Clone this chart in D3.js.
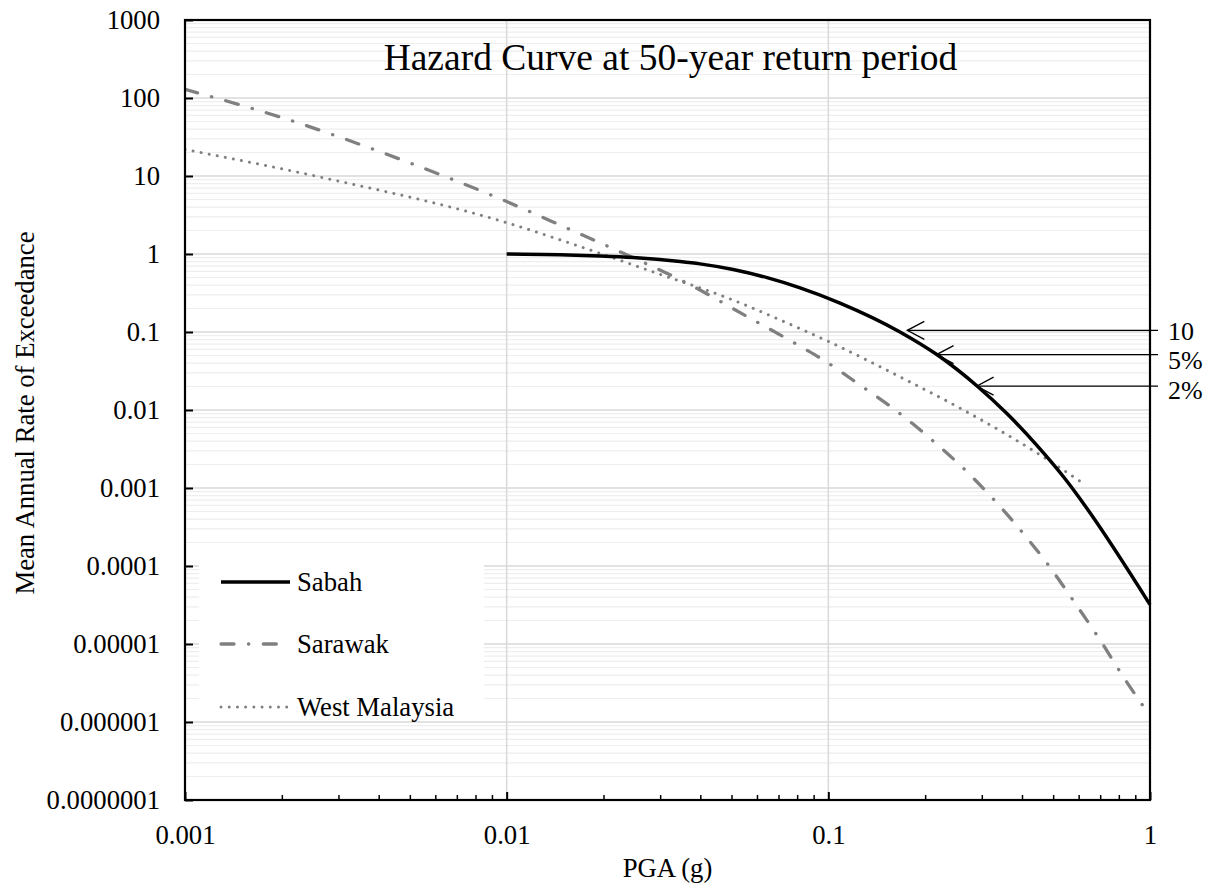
<!DOCTYPE html>
<html>
<head>
<meta charset="utf-8">
<script src="https://cdn.jsdelivr.net/npm/d3@7"></script>
<style>
  html, body { margin: 0; padding: 0; background: #fff; }
  svg { display: block; }
  text { font-family: "Liberation Serif", "Times New Roman", serif; fill: #000; }
</style>
</head>
<body>
<svg id="chart" width="1215" height="890"></svg>
<script>
// ---------------- data ----------------
const sabahPGA  = [0.01, 0.01466, 0.0195, 0.0247, 0.0346, 0.0399, 0.0506, 0.0645, 0.0817, 0.1087, 0.167, 0.218, 0.29, 0.359, 0.445, 0.552, 0.628, 1.0];
const sabahRate = [1.0, 0.98, 0.945, 0.902, 0.801, 0.747, 0.633, 0.497, 0.368, 0.235, 0.1002, 0.051, 0.0203, 0.0090, 0.00352, 0.00122, 0.000593, 0.000032];

const sarawakPGA  = [0.001, 0.00196, 0.005, 0.01, 0.01545, 0.0237, 0.0369, 0.0553, 0.0838, 0.0955, 0.124, 0.1614, 0.206, 0.261, 0.326, 0.401, 0.489, 0.586, 0.700, 0.828, 1.0];
const sarawakRate = [129, 57.6, 14.7, 4.7, 2.13, 0.97, 0.41, 0.162, 0.0618, 0.045, 0.0216, 0.01, 0.00442, 0.00184, 0.00072, 0.00027, 0.000096, 0.000033, 0.0000112, 0.00000374, 0.0000012];

const westPGA  = [0.001, 0.00266, 0.01, 0.0164, 0.029, 0.048, 0.081, 0.1, 0.165, 0.263, 0.439, 0.619];
const westRate = [21.9, 9.6, 2.52, 1.30, 0.575, 0.279, 0.112, 0.0757, 0.0273, 0.01, 0.00292, 0.00115];

const seriesNames = ["Sabah", "Sarawak", "West Malaysia"];

const xTickValues = [0.001, 0.01, 0.1, 1];
const xTickLabels = ["0.001", "0.01", "0.1", "1"];
const yTickValues = [1e-7, 1e-6, 1e-5, 1e-4, 1e-3, 1e-2, 1e-1, 1, 10, 100, 1000];
const yTickLabels = ["0.0000001", "0.000001", "0.00001", "0.0001", "0.001", "0.01", "0.1", "1", "10", "100", "1000"];

const annoLabels = ["10", "5%", "2%"];
const annoRate   = [0.105, 0.0513, 0.0202];
const annoPGA    = [0.176, 0.217, 0.289];

const titleText = "Hazard Curve at 50-year return period";
const xTitle = "PGA (g)";
const yTitle = "Mean Annual Rate of Exceedance";

// ---------------- layout ----------------
const L = 185, R = 1150, T = 20, B = 800;
const svg = d3.select("#chart");
const x = d3.scaleLog().domain([0.001, 1]).range([L, R]);
const y = d3.scaleLog().domain([1e-7, 1000]).range([B, T]);

// minor horizontal gridlines
const minorY = [];
yTickValues.slice(0, -1).forEach(d => { for (let k = 2; k <= 9; k++) minorY.push(k * d); });
svg.append("g").selectAll("line").data(minorY).join("line")
  .attr("x1", L).attr("x2", R)
  .attr("y1", d => y(d)).attr("y2", d => y(d))
  .attr("stroke", "#eeeeee").attr("stroke-width", 1.2);
// major horizontal gridlines
svg.append("g").selectAll("line").data(yTickValues).join("line")
  .attr("x1", L).attr("x2", R)
  .attr("y1", d => y(d)).attr("y2", d => y(d))
  .attr("stroke", "#d9d9d9").attr("stroke-width", 1.5);
// vertical major gridlines
svg.append("g").selectAll("line").data(xTickValues.slice(1, -1)).join("line")
  .attr("x1", d => x(d)).attr("x2", d => x(d))
  .attr("y1", T).attr("y2", B)
  .attr("stroke", "#d9d9d9").attr("stroke-width", 1.5);

// legend background
svg.append("rect").attr("x", 199).attr("y", 562).attr("width", 285).attr("height", 150).attr("fill", "#fff");

// ---------------- curves ----------------
const line = d3.line().x(d => x(d[0])).y(d => y(d[1])).curve(d3.curveMonotoneX);
const styles = [
  { color: "#000000", width: 3.5, dash: null, cap: "butt" },
  { color: "#808080", width: 3.3, dash: "13 14.5 0.3 14.5", cap: "round" },
  { color: "#808080", width: 3, dash: "0.01 8.2", cap: "round" }
];
const seriesData = [
  d3.zip(sabahPGA, sabahRate),
  d3.zip(sarawakPGA, sarawakRate),
  d3.zip(westPGA, westRate)
];
svg.append("defs").append("clipPath").attr("id", "clip")
  .append("rect").attr("x", L).attr("y", T).attr("width", R - L + 3).attr("height", B - T);
const gCurves = svg.append("g").attr("clip-path", "url(#clip)");
[2, 1, 0].forEach(i => {
  gCurves.append("path").datum(seriesData[i])
    .attr("d", line)
    .attr("fill", "none")
    .attr("stroke", styles[i].color)
    .attr("stroke-width", styles[i].width)
    .attr("stroke-linecap", styles[i].cap)
    .attr("stroke-dasharray", styles[i].dash);
});

// ---------------- axes ----------------
const fontSize = "26.7px";
const yAxis = svg.append("g").attr("transform", `translate(${L},0)`)
  .call(d3.axisLeft(y).tickValues(yTickValues).tickSize(-8).tickPadding(25)
    .tickFormat((d, i) => yTickLabels[i]));
yAxis.select(".domain").remove();
yAxis.selectAll("line").attr("stroke", "#000").attr("stroke-width", 2);
yAxis.selectAll("text").style("font-size", fontSize).attr("dy", "0.33em");

const minorX = [];
xTickValues.slice(0, -1).forEach(d => { for (let k = 2; k <= 9; k++) minorX.push(k * d); });
const xMinor = svg.append("g").attr("transform", `translate(0,${B})`)
  .call(d3.axisBottom(x).tickValues(minorX).tickSize(-5).tickFormat(""));
xMinor.select(".domain").remove();
xMinor.selectAll("line").attr("stroke", "#000").attr("stroke-width", 1.5);

const xAxis = svg.append("g").attr("transform", `translate(0,${B})`)
  .call(d3.axisBottom(x).tickValues(xTickValues).tickSize(-8).tickPadding(25)
    .tickFormat((d, i) => xTickLabels[i]));
xAxis.select(".domain").remove();
xAxis.selectAll("line").attr("stroke", "#000").attr("stroke-width", 2);
xAxis.selectAll("text").style("font-size", fontSize);

// frame
svg.append("rect").attr("x", L).attr("y", T).attr("width", R - L).attr("height", B - T)
  .attr("fill", "none").attr("stroke", "#000").attr("stroke-width", 2.2);

// ---------------- annotations ----------------
const gA = svg.append("g");
annoLabels.forEach((lab, i) => {
  const tx = x(annoPGA[i]), ty = y(annoRate[i]);
  gA.append("line").attr("x1", 1158).attr("x2", tx).attr("y1", ty).attr("y2", ty)
    .attr("stroke", "#000").attr("stroke-width", 1.3);
  gA.append("path").attr("d", `M${tx + 17},${ty - 9}L${tx},${ty}L${tx + 17},${ty + 9}`)
    .attr("fill", "none").attr("stroke", "#000").attr("stroke-width", 1.3);
  gA.append("text").attr("x", 1168).attr("y", y(annoRate[0]) + 1 + i * 29.5).attr("dy", "0.33em")
    .style("font-size", "26px").text(lab);
});

// ---------------- legend ----------------
const legY = [582, 644, 707];
seriesNames.forEach((name, i) => {
  svg.append("line").attr("x1", 221).attr("x2", 290).attr("y1", legY[i]).attr("y2", legY[i])
    .attr("stroke", styles[i].color).attr("stroke-width", styles[i].width)
    .attr("stroke-linecap", styles[i].cap).attr("stroke-dasharray", styles[i].dash);
  svg.append("text").attr("x", 297).attr("y", legY[i]).attr("dy", "0.33em")
    .style("font-size", fontSize).text(name);
});

// ---------------- titles ----------------
svg.append("text").attr("x", (L + R) / 2 + 3).attr("y", 70).attr("text-anchor", "middle")
  .style("font-size", "37.5px").text(titleText);
svg.append("text").attr("x", (L + R) / 2).attr("y", 877).attr("text-anchor", "middle")
  .style("font-size", fontSize).text(xTitle);
svg.append("text").attr("transform", "translate(34,413) rotate(-90)").attr("text-anchor", "middle")
  .style("font-size", fontSize).text(yTitle);
</script>
</body>
</html>
